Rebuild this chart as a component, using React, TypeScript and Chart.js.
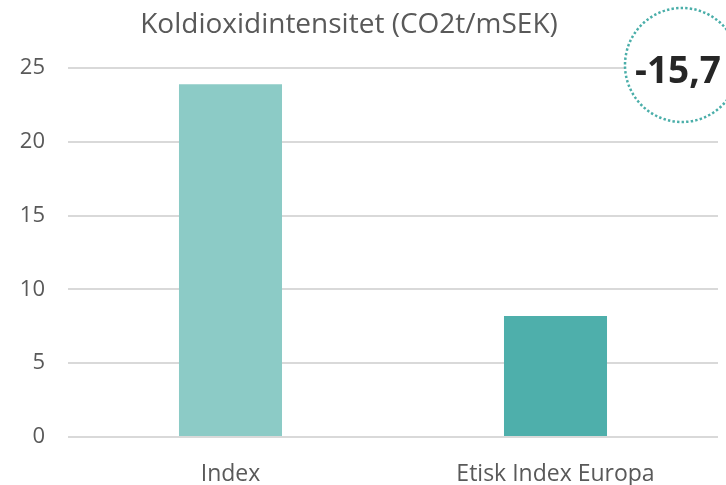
import React, { useEffect, useRef } from "react";
import { Chart, registerables } from "chart.js";

Chart.register(...registerables);

const categories: string[] = ["Index", "Etisk Index Europa"];
const values: number[] = [23.9, 8.2];
const barColors: string[] = ["#8ccbc6", "#4eafab"];
const titleText = "Koldioxidintensitet (CO2t/mSEK)";
const yMin = 0;
const yMax = 25;
const yStep = 5;

const FONT = "'Open Sans', sans-serif";

const titlePlugin = {
  id: "customTitle",
  afterDraw(chart: any) {
    const { ctx } = chart;
    ctx.save();
    ctx.fillStyle = "#595959";
    ctx.font = "28px " + FONT;
    ctx.textAlign = "center";
    ctx.textBaseline = "alphabetic";
    ctx.fillText(titleText, 349, 33);
    ctx.restore();
  },
};

const badgePlugin = {
  id: "diffBadge",
  afterDraw(chart: any) {
    const { ctx, chartArea } = chart;
    const diff = values[1] - values[0];
    const label = (diff < 0 ? "-" : "") + Math.abs(diff).toFixed(1).replace(".", ",");
    const cx = chartArea.right - 36;
    const cy = chartArea.top - 3;
    const r = 57;
    ctx.save();
    ctx.beginPath();
    ctx.arc(cx, cy, r, 0, Math.PI * 2);
    ctx.fillStyle = "#ffffff";
    ctx.fill();
    ctx.setLineDash([2.4, 2.2]);
    ctx.lineWidth = 2.5;
    ctx.strokeStyle = "#4aaea9";
    ctx.stroke();
    ctx.setLineDash([]);
    ctx.fillStyle = "#262626";
    ctx.font = "bold 37px " + FONT;
    ctx.textAlign = "center";
    ctx.textBaseline = "alphabetic";
    ctx.fillText(label, cx - 4, cy + 18);
    ctx.restore();
  },
};

export default function App() {
  const ref = useRef<HTMLCanvasElement | null>(null);
  useEffect(() => {
    if (!ref.current) return;
    const chart = new Chart(ref.current, {
      type: "bar",
      data: {
        labels: categories,
        datasets: [
          {
            data: values,
            backgroundColor: barColors,
            barPercentage: 0.317,
            categoryPercentage: 1,
          },
        ],
      },
      options: {
        animation: false,
        responsive: false,
        maintainAspectRatio: false,
        layout: { padding: { left: 0, right: 8, top: 68, bottom: 0 } },
        plugins: {
          legend: { display: false },
          tooltip: { enabled: false },
          title: { display: false },
        },
        scales: {
          x: {
            grid: { display: false },
            border: { display: false },
            ticks: {
              color: "#595959",
              font: { family: FONT, size: 23 },
              padding: 16,
            },
            afterFit: (scale: any) => {
              scale.height = 48;
            },
          },
          y: {
            min: yMin,
            max: yMax,
            grid: { color: "#d9d9d9", lineWidth: 2, drawTicks: false },
            border: { display: false },
            ticks: {
              stepSize: yStep,
              color: "#595959",
              font: { family: FONT, size: 22 },
              padding: 23,
            },
            afterFit: (scale: any) => {
              scale.width = 68;
            },
          },
        },
      },
      plugins: [titlePlugin, badgePlugin],
    });
    return () => chart.destroy();
  }, []);
  return (
    <div style={{ position: "absolute", left: 0, top: 0, width: 726, height: 485 }}>
      <canvas ref={ref} width={726} height={485} style={{ display: "block" }} />
    </div>
  );
}
